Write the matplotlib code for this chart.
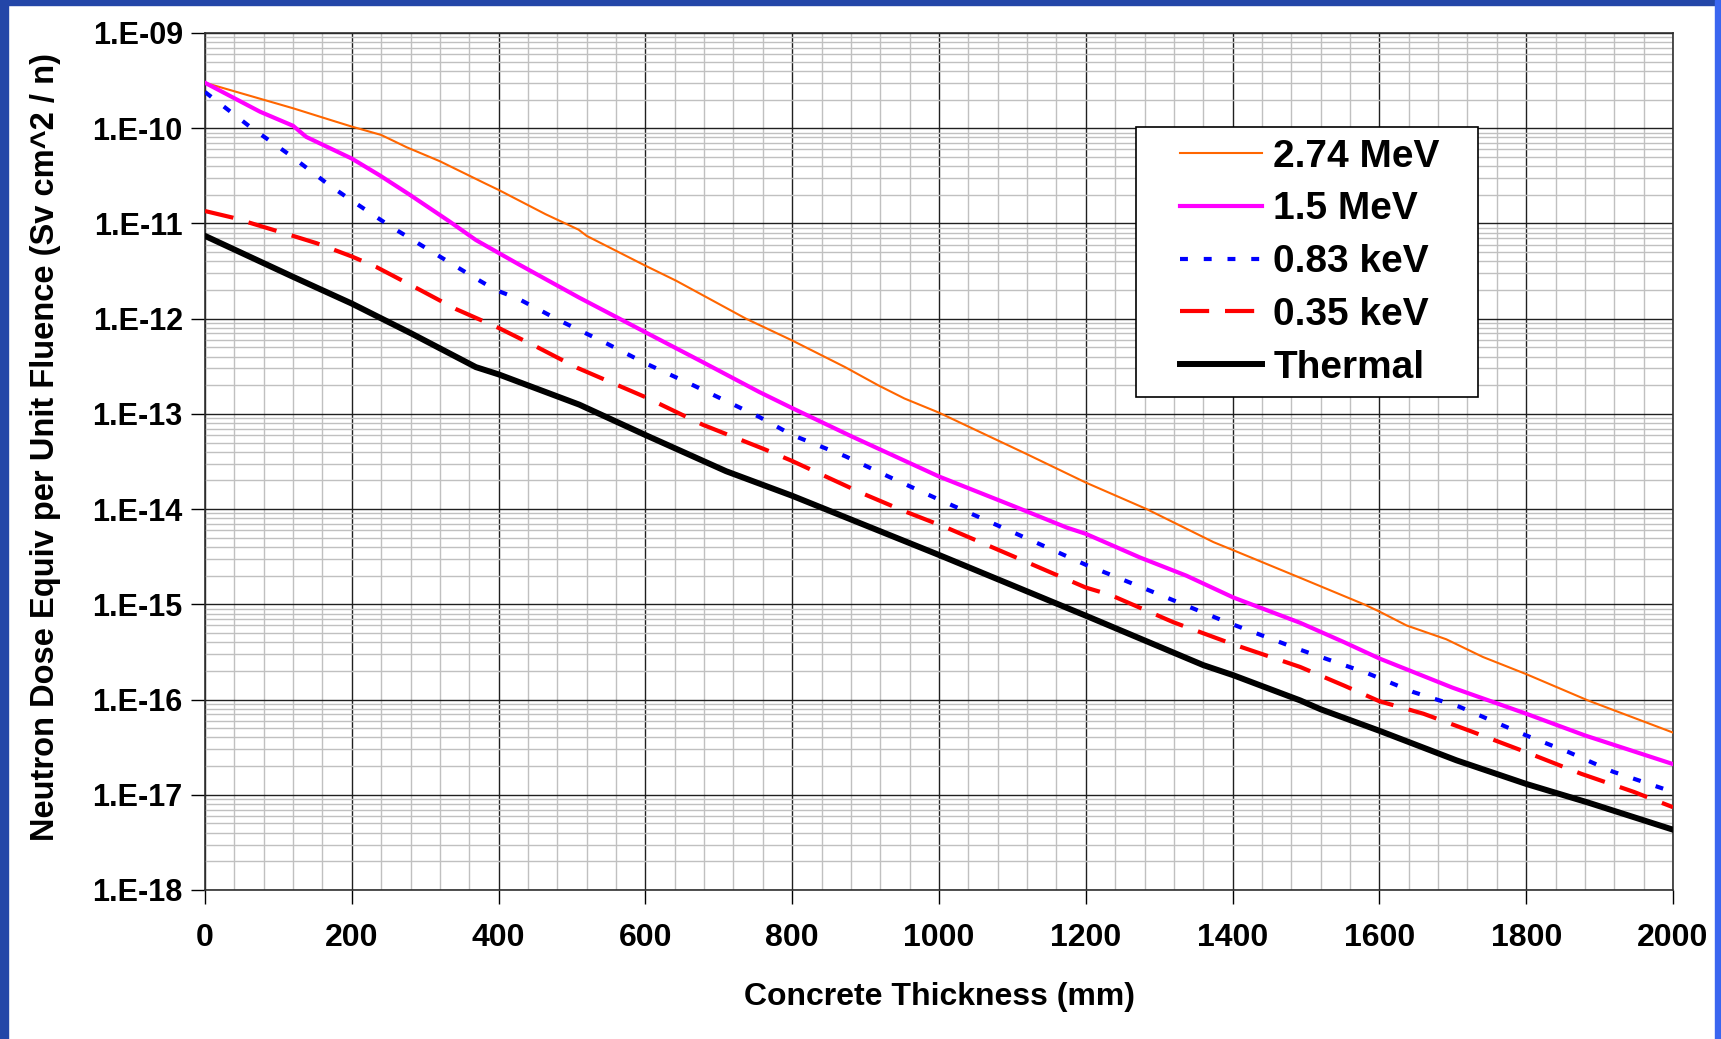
import numpy as np
import matplotlib
matplotlib.use("Agg")
import matplotlib.pyplot as plt
from matplotlib.ticker import MultipleLocator, LogLocator, FuncFormatter, NullFormatter
from matplotlib.patches import Rectangle
from matplotlib.legend_handler import HandlerLine2D

plt.rcParams["font.family"] = ["Liberation Sans", "DejaVu Sans"]
plt.rcParams["font.weight"] = "bold"

# values (x in mm, y in Sv cm^2 / n)
x_274 = [0, 120, 174, 200, 240, 275, 320, 383, 400, 464, 509, 520, 600, 642, 737, 800, 872,
         917, 953, 1000, 1119, 1200, 1283, 1374, 1401, 1492, 1579, 1600, 1637, 1691, 1741,
         1800, 1884, 2000]
y_274 = [3.0e-10, 1.62e-10, 1.2e-10, 1.04e-10, 8.5e-11, 6.3e-11, 4.5e-11, 2.6e-11, 2.25e-11,
         1.25e-11, 8.6e-12, 7.4e-12, 3.6e-12, 2.5e-12, 1.0e-12, 5.9e-13, 3.1e-13, 2.0e-13,
         1.45e-13, 1.03e-13, 3.8e-14, 1.9e-14, 1.0e-14, 4.5e-15, 3.7e-15, 1.9e-15, 1.0e-15,
         8.4e-16, 6.0e-16, 4.3e-16, 2.8e-16, 1.85e-16, 9.8e-17, 4.5e-17]

x_15 = [0, 75, 120, 138, 200, 238, 279, 333, 369, 400, 428, 510, 600, 678, 755, 800, 881,
        1000, 1101, 1174, 1200, 1274, 1337, 1401, 1492, 1552, 1600, 1700, 1800, 1880, 2000]
y_15 = [3.0e-10, 1.49e-10, 1.06e-10, 8.1e-11, 4.8e-11, 3.2e-11, 2.0e-11, 1.05e-11, 6.7e-12,
        4.9e-12, 3.7e-12, 1.66e-12, 7.2e-13, 3.5e-13, 1.7e-13, 1.15e-13, 5.8e-14, 2.2e-14,
        1.08e-14, 6.4e-15, 5.5e-15, 3.1e-15, 2.0e-15, 1.18e-15, 6.4e-16, 4.0e-16, 2.7e-16,
        1.33e-16, 7.1e-17, 4.2e-17, 2.1e-17]

x_083 = [0, 61, 116, 170, 197, 251, 310, 367, 396, 426, 485, 547, 600, 665, 755, 800, 872,
         931, 996, 1055, 1146, 1200, 1237, 1301, 1365, 1392, 1489, 1552, 1583, 1646, 1709,
         1800, 1858, 1918, 1988, 2000]
y_083 = [2.4e-10, 1.04e-10, 5.2e-11, 2.5e-11, 1.8e-11, 9.5e-12, 5.0e-12, 2.7e-12, 2.0e-12,
         1.63e-12, 9.4e-13, 5.5e-13, 3.4e-13, 2.0e-13, 9.3e-14, 6.0e-14, 3.6e-14, 2.2e-14,
         1.3e-14, 8.2e-15, 4.0e-15, 2.6e-15, 2.0e-15, 1.26e-15, 7.9e-16, 6.5e-16, 3.4e-16,
         2.3e-16, 1.9e-16, 1.2e-16, 8.4e-17, 4.2e-17, 2.8e-17, 1.75e-17, 1.15e-17, 1.0e-17]

x_035 = [0, 38, 120, 152, 200, 233, 288, 342, 400, 451, 507, 600, 678, 764, 800, 895, 953,
         1010, 1101, 1200, 1233, 1319, 1401, 1492, 1552, 1600, 1660, 1723, 1800, 1875, 1947,
         2000]
y_035 = [1.35e-11, 1.15e-11, 7.4e-12, 6.2e-12, 4.5e-12, 3.5e-12, 2.1e-12, 1.26e-12, 8.0e-13,
         5.1e-13, 3.05e-13, 1.5e-13, 7.7e-14, 4.2e-14, 3.2e-14, 1.47e-14, 9.5e-15, 6.4e-15,
         3.2e-15, 1.5e-15, 1.26e-15, 6.5e-16, 3.8e-16, 2.2e-16, 1.4e-16, 9.6e-17, 7.1e-17,
         4.7e-17, 2.8e-17, 1.66e-17, 1.07e-17, 7.4e-18]

x_th = [0, 120, 200, 281, 369, 400, 510, 600, 710, 800, 1000, 1200, 1360, 1401, 1492, 1520,
        1600, 1705, 1800, 1884, 2000]
y_th = [7.4e-12, 2.75e-12, 1.44e-12, 7.0e-13, 3.1e-13, 2.6e-13, 1.25e-13, 6.0e-14, 2.5e-14,
        1.38e-14, 3.3e-15, 7.6e-16, 2.3e-16, 1.8e-16, 9.8e-17, 7.9e-17, 4.7e-17, 2.3e-17,
        1.3e-17, 8.3e-18, 4.3e-18]

labels = ["2.74 MeV", "1.5 MeV", "0.83 keV", "0.35 keV", "Thermal"]

W, H = 1721, 1039
fig = plt.figure(figsize=(W / 100, H / 100), dpi=100, facecolor="white")

# blue slide border strips
fig.patches.append(Rectangle((0, 0), 8 / W, 1, transform=fig.transFigure,
                             color="#2346A8", zorder=0))
fig.patches.append(Rectangle((0, 1 - 5 / H), 1, 5 / H, transform=fig.transFigure,
                             color="#2346A8", zorder=0))
fig.patches.append(Rectangle((1 - 6 / W, 0), 6 / W, 1, transform=fig.transFigure,
                             color="#3A66F0", zorder=0))

ax = fig.add_axes([205 / W, 1 - 890 / H, 1468 / W, 857 / H])

ax.plot(x_274, y_274, color="#FF6600", lw=1.5, label=labels[0], zorder=5)
ax.plot(x_15, y_15, color="#FF00FF", lw=3.0, label=labels[1], zorder=5)
ax.plot(x_083, y_083, color="#0000FF", lw=3.0, dashes=(1.9, 3.8), label=labels[2], zorder=5)
ax.plot(x_035, y_035, color="#FF0000", lw=3.0, dashes=(7, 3.8), label=labels[3], zorder=5)
ax.plot(x_th, y_th, color="black", lw=4.3, label=labels[4], zorder=5)

ax.set_yscale("log")
ax.set_xlim(0, 2000)
ax.set_ylim(1e-18, 1e-9)

ax.xaxis.set_major_locator(MultipleLocator(200))
ax.xaxis.set_minor_locator(MultipleLocator(40))
ax.yaxis.set_major_locator(LogLocator(base=10, numticks=20))
ax.yaxis.set_minor_locator(LogLocator(base=10, subs=np.arange(2, 10), numticks=20))
ax.yaxis.set_major_formatter(FuncFormatter(lambda v, p: f"1.E{int(round(np.log10(v))):03d}"))
ax.yaxis.set_minor_formatter(NullFormatter())

ax.grid(which="minor", color="#C0C0C0", lw=1.0, zorder=1)
ax.grid(which="major", color="#202020", lw=1.0, zorder=2)
ax.set_axisbelow(True)

ax.tick_params(which="major", direction="out", length=10, width=1)
ax.tick_params(axis="x", which="major", labelsize=23, pad=14)
ax.tick_params(axis="y", which="major", labelsize=22, pad=6)
ax.tick_params(which="minor", length=0)
for s in ax.spines.values():
    s.set_color("#303030")
    s.set_linewidth(1.2)

ax.set_xlabel("Concrete Thickness (mm)", fontsize=23, fontweight="bold")
ax.xaxis.label.set_va("center")
ax.xaxis.set_label_coords(0.5, (890 - 997) / 857)
ax.set_ylabel("Neutron Dose Equiv per Unit Fluence (Sv cm^2 / n)", fontsize=23.5,
              fontweight="bold")
ax.yaxis.label.set_va("center")
ax.yaxis.set_label_coords((46 - 205) / 1468, 0.517)

leg_x0 = (1136 - 205) / 1468
leg_top = (890 - 127) / 857
leg_w = 342 / 1468
leg = ax.legend(loc="upper left", bbox_to_anchor=(leg_x0, leg_top - 0.4, leg_w, 0.4),
                mode="expand", fontsize=28,
                handler_map={plt.Line2D: HandlerLine2D(xpad=0.83)},
                frameon=True, fancybox=False, edgecolor="black", framealpha=1,
                handlelength=2.93, handletextpad=0.3, labelspacing=0.43, borderpad=0.3,
                borderaxespad=0)
leg.get_frame().set_linewidth(1.2)

fig.savefig("out.png", dpi=100, facecolor=fig.get_facecolor())
